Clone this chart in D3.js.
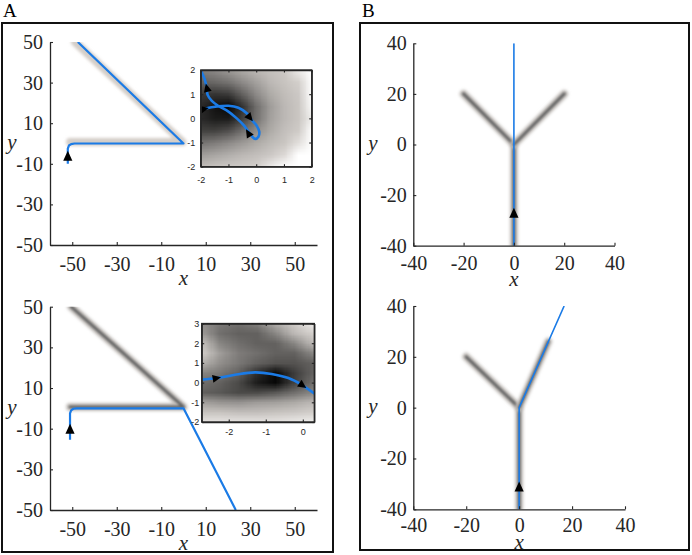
<!DOCTYPE html>
<html>
<head>
<meta charset="utf-8">
<script src="https://cdn.jsdelivr.net/npm/d3@7"></script>
<style>
  body { margin: 0; background: #fff; }
  svg { display: block; }
</style>
</head>
<body>
<div id="chart"></div>
<script>
// ---------- data ----------
const ticksA = [-50, -30, -10, 10, 30, 50];
const ticksB = [-40, -20, 0, 20, 40];
const inset1Ticks = [-2, -1, 0, 1, 2];
const inset2TicksX = [-2, -1, 0];
const inset2TicksY = [-2, -1, 0, 1, 2, 3];

// panel A, top: grey target path, blue trajectory, arrow
const a1Guide = [[[-51, 0.8], [-0.5, 0.8], [-48.8, 50]]];
const a1Path = [[-52, -10], [-52, -2.5], [-51.5, -1], [-50.5, -0.3], [-49, 0], [0, 0], [-47.5, 50]];
const a1Arrow = [-52, -6];
// panel A, bottom
const a2Guide = [[[-51, 0.7], [0, 0.7], [-50.5, 50]]];
const a2Path = [[-51, -15.5], [-51, -2.5], [-50.5, -1], [-49.5, -0.2], [-48, 0], [0, 0], [23.5, -50]];
const a2Arrow = [-51, -10];
// panel B, top
const b1Guide = [[[0, -40], [0, 0], [-20, 20]], [[0, 0], [20, 20]]];
const b1Path = [[0, -40], [0, 40]];
const b1Arrow = [0, -27];
// panel B, bottom
const b2Guide = [[[0, -40], [0, 0], [-20, 20]], [[0, 0], [11, 26]]];
const b2Path = [[0, -40], [0, 0], [17, 40]];
const b2Arrow = [0, -31];

// inset 1 (top of A): grid of darkness values, rows from y=2 down to y=-2
const in1X = [-2, -1.5, -1, -0.5, 0, 0.5, 1, 1.5, 2];
const in1Y = [2, 1.5, 1, 0.5, 0, -0.5, -1, -1.5, -2];
const in1Val = [
  [0.45, 0.40, 0.33, 0.26, 0.20, 0.16, 0.13, 0.04, 0],
  [0.58, 0.55, 0.50, 0.40, 0.30, 0.20, 0.15, 0.10, 0],
  [0.75, 0.78, 0.75, 0.58, 0.40, 0.26, 0.18, 0.13, 0],
  [0.82, 0.92, 0.98, 0.78, 0.52, 0.32, 0.20, 0.14, 0.01],
  [0.82, 0.88, 0.88, 0.72, 0.50, 0.30, 0.20, 0.14, 0.03],
  [0.72, 0.72, 0.66, 0.52, 0.38, 0.26, 0.17, 0.12, 0],
  [0.50, 0.46, 0.40, 0.33, 0.26, 0.19, 0.14, 0.06, 0],
  [0.32, 0.28, 0.24, 0.20, 0.17, 0.13, 0.07, 0, 0],
  [0.18, 0.15, 0.13, 0.12, 0.10, 0.04, 0, 0, 0]
];
const in1Path = [
  [-2.0, 0.37], [-1.94, 0.38], [-1.48, 0.48], [-1.0, 0.52], [-0.64, 0.44], [-0.34, 0.21],
  [-0.16, -0.07], [0.02, -0.31], [0.11, -0.55], [0.08, -0.76], [-0.04, -0.85],
  [-0.14, -0.76], [-0.28, -0.55], [-0.46, -0.27], [-0.70, 0.0], [-1.0, 0.28],
  [-1.37, 0.52], [-1.6, 0.72], [-1.75, 0.97], [-1.78, 1.24], [-1.85, 1.59], [-2.0, 2.0]
];
const in1Arrows = [
  { at: [-1.86, 0.39], to: [-1.48, 0.48] },
  { at: [-1.78, 1.27], to: [-1.85, 1.59] },
  { at: [-0.22, 0.02], to: [0.02, -0.31] },
  { at: [-0.29, -0.6], to: [-0.46, -0.27] }
];

// inset 2 (bottom of A), rows from y=3 down to y=-2
const in2X = [-2.75, -2.25, -1.75, -1.25, -0.75, -0.25, 0.25];
const in2Y = [3, 2.5, 2, 1.5, 1, 0.5, 0, -0.5, -1, -1.5, -2];
const in2Val = [
  [0.38, 0.48, 0.52, 0.45, 0.25, 0.12, 0.04],
  [0.32, 0.52, 0.58, 0.58, 0.42, 0.20, 0.10],
  [0.15, 0.42, 0.52, 0.58, 0.58, 0.42, 0.20],
  [0.10, 0.32, 0.46, 0.52, 0.58, 0.58, 0.42],
  [0.22, 0.38, 0.48, 0.58, 0.64, 0.64, 0.58],
  [0.42, 0.48, 0.58, 0.80, 0.97, 0.74, 0.58],
  [0.52, 0.58, 0.68, 0.88, 0.97, 0.72, 0.52],
  [0.58, 0.62, 0.68, 0.68, 0.62, 0.52, 0.42],
  [0.30, 0.35, 0.36, 0.32, 0.30, 0.26, 0.20],
  [0.15, 0.15, 0.17, 0.17, 0.15, 0.13, 0.10],
  [0.05, 0.05, 0.05, 0.05, 0.05, 0.04, 0.03]
];
const in2Path = [[-2.73, 0.15], [-2.32, 0.23], [-1.83, 0.40], [-1.29, 0.52], [-0.84, 0.44], [-0.39, 0.23], [-0.03, -0.11], [0.31, -0.55]];
const in2Arrows = [
  { at: [-2.32, 0.23], to: [-1.83, 0.40] },
  { at: [0.0, -0.15], to: [0.31, -0.55] }
];

// ---------- drawing ----------
const W = 692, H = 555;
const BLUE = "#1b7be6", AXC = "#262626";
const SERIF = "'Liberation Serif', 'DejaVu Serif', serif";
const SANS = "'Liberation Sans', Arial, sans-serif";

const svg = d3.select("#chart").append("svg").attr("width", W).attr("height", H);
const defs = svg.append("defs");
defs.append("filter").attr("id", "halo").attr("x", "-20%").attr("y", "-20%").attr("width", "140%").attr("height", "140%")
  .append("feGaussianBlur").attr("stdDeviation", 1.8);
defs.append("filter").attr("id", "core").attr("x", "-20%").attr("y", "-20%").attr("width", "140%").attr("height", "140%")
  .append("feGaussianBlur").attr("stdDeviation", 1.0);

const grayRamp = d3.scaleLinear().domain([0, 0.08, 1]).range(["#ffffff", "#d8d4d0", "#000000"]).clamp(true);

// panel frames and letters
svg.append("rect").attr("x", 2).attr("y", 23).attr("width", 331).attr("height", 529)
  .attr("fill", "none").attr("stroke", "#111").attr("stroke-width", 2);
svg.append("rect").attr("x", 360).attr("y", 23).attr("width", 329).attr("height", 527)
  .attr("fill", "none").attr("stroke", "#111").attr("stroke-width", 2);
svg.append("text").attr("x", 3).attr("y", 17).text("A").style("font-family", SERIF).style("font-size", "19px");
svg.append("text").attr("x", 362).attr("y", 17).text("B").style("font-family", SERIF).style("font-size", "19px");

function arrowHead(g, px, py, ang, len, hw) {
  g.append("path")
    .attr("d", `M${len / 2},0L${-len / 2},${hw}L${-len / 2},${-hw}Z`)
    .attr("transform", `translate(${px},${py}) rotate(${ang})`)
    .attr("fill", "#000");
}

function styleAxis(sel, font, size) {
  sel.attr("font-family", null).attr("font-size", null);
  sel.select(".domain").attr("stroke", AXC).attr("stroke-width", 1.3);
  sel.selectAll(".tick line").attr("stroke", AXC).attr("stroke-width", 1.1);
  sel.selectAll(".tick text").attr("fill", AXC).style("font-family", font).style("font-size", size + "px");
}

let clipN = 0;
function mainPlot(c) {
  const x = d3.scaleLinear().domain(c.xd).range(c.xr);
  const y = d3.scaleLinear().domain(c.yd).range(c.yr);
  const id = "clip" + (clipN++);
  defs.append("clipPath").attr("id", id).append("rect")
    .attr("x", c.xr[0]).attr("y", c.yr[1]).attr("width", c.xr[1] - c.xr[0]).attr("height", c.yr[0] - c.yr[1]);
  const g = svg.append("g");
  const inner = g.append("g").attr("clip-path", `url(#${id})`);
  const line = d3.line().x(d => x(d[0])).y(d => y(d[1]));

  c.guide.forEach(gd => {
    inner.append("path").attr("d", line(gd)).attr("fill", "none").attr("stroke", c.faint ? "#d4cec8" : "#c4c0bc")
      .attr("stroke-width", 8).attr("stroke-linecap", "round").attr("stroke-linejoin", "round").attr("filter", "url(#halo)");
    if (!c.faint) {
      inner.append("path").attr("d", line(gd)).attr("fill", "none").attr("stroke", "#666")
        .attr("stroke-width", 3).attr("stroke-linecap", "round").attr("stroke-linejoin", "round").attr("filter", "url(#core)");
    }
  });
  inner.append("path").attr("d", line(c.path)).attr("fill", "none").attr("stroke", BLUE)
    .attr("stroke-width", c.bw).attr("stroke-linejoin", "round");
  arrowHead(g, x(c.arrow[0]), y(c.arrow[1]), -90, 10, 4.6);

  const ax = g.append("g").attr("transform", `translate(0,${c.yr[0]})`)
    .call(d3.axisBottom(x).tickValues(c.ticks).tickSize(-3).tickSizeOuter(0).tickPadding(c.padX).tickFormat(d => String(d)));
  styleAxis(ax, SERIF, 20);
  const ay = g.append("g").attr("transform", `translate(${c.xr[0]},0)`)
    .call(d3.axisLeft(y).tickValues(c.yticks).tickSize(-3).tickSizeOuter(0).tickPadding(c.padY).tickFormat(d => String(d)));
  styleAxis(ay, SERIF, 20);

  g.append("text").attr("x", (c.xr[0] + c.xr[1]) / 2).attr("y", c.yr[0] + 40).attr("text-anchor", "middle")
    .style("font-family", SERIF).style("font-style", "italic").style("font-size", "21px").attr("fill", AXC).text("x");
  g.append("text").attr("x", c.ylabX).attr("y", (c.yr[0] + c.yr[1]) / 2 + 5.5).attr("text-anchor", "middle")
    .style("font-family", SERIF).style("font-style", "italic").style("font-size", "21px").attr("fill", AXC).text("y");
}

function inset(c) {
  const x = d3.scaleLinear().domain(c.xd).range(c.xr);
  const y = d3.scaleLinear().domain(c.yd).range(c.yr);
  const id = "clip" + (clipN++);
  const bx = c.xr[0], by = c.yr[1], bw = c.xr[1] - c.xr[0], bh = c.yr[0] - c.yr[1];
  defs.append("clipPath").attr("id", id).append("rect").attr("x", bx).attr("y", by).attr("width", bw).attr("height", bh);
  const g = svg.append("g");
  g.append("rect").attr("x", bx).attr("y", by).attr("width", bw).attr("height", bh).attr("fill", "#fff");

  // heat map: one canvas pixel per grid value, smoothly scaled by the browser
  const nx = c.gx.length, ny = c.gy.length;
  const cv = document.createElement("canvas");
  cv.width = nx; cv.height = ny;
  const ctx = cv.getContext("2d");
  c.vals.forEach((row, j) => row.forEach((v, i) => { ctx.fillStyle = grayRamp(v); ctx.fillRect(i, j, 1, 1); }));
  const hx = (c.gx[1] - c.gx[0]) / 2, hy = (c.gy[0] - c.gy[1]) / 2;
  const inner = g.append("g").attr("clip-path", `url(#${id})`);
  inner.append("image").attr("href", cv.toDataURL())
    .attr("x", x(c.gx[0] - hx)).attr("y", y(c.gy[0] + hy))
    .attr("width", x(c.gx[nx - 1] + hx) - x(c.gx[0] - hx))
    .attr("height", y(c.gy[ny - 1] - hy) - y(c.gy[0] + hy))
    .attr("preserveAspectRatio", "none");

  const line = d3.line().x(d => x(d[0])).y(d => y(d[1])).curve(d3.curveCatmullRom);
  inner.append("path").attr("d", line(c.path)).attr("fill", "none").attr("stroke", BLUE)
    .attr("stroke-width", 2.6).attr("stroke-linecap", "round");
  c.arrows.forEach(a => {
    const ang = Math.atan2(y(a.to[1]) - y(a.at[1]), x(a.to[0]) - x(a.at[0])) * 180 / Math.PI;
    arrowHead(inner, x(a.at[0]), y(a.at[1]), ang, 8.5, 4);
  });

  const t = 2.5;
  const ab = g.append("g").attr("transform", `translate(0,${c.yr[0]})`)
    .call(d3.axisBottom(x).tickValues(c.tx).tickSize(-t).tickSizeOuter(0).tickPadding(c.padX).tickFormat(d => String(d)));
  styleAxis(ab, SANS, 9);
  const at = g.append("g").attr("transform", `translate(0,${c.yr[1]})`)
    .call(d3.axisTop(x).tickValues(c.tx).tickSize(-t).tickSizeOuter(0).tickFormat(""));
  styleAxis(at, SANS, 9);
  const al = g.append("g").attr("transform", `translate(${c.xr[0]},0)`)
    .call(d3.axisLeft(y).tickValues(c.ty).tickSize(-t).tickSizeOuter(0).tickPadding(c.padY).tickFormat(d => String(d)));
  styleAxis(al, SANS, 9);
  const ar = g.append("g").attr("transform", `translate(${c.xr[1]},0)`)
    .call(d3.axisRight(y).tickValues(c.ty).tickSize(-t).tickSizeOuter(0).tickFormat(""));
  styleAxis(ar, SANS, 9);
  g.append("rect").attr("x", bx).attr("y", by).attr("width", bw).attr("height", bh)
    .attr("fill", "none").attr("stroke", AXC).attr("stroke-width", 1.3);
}

mainPlot({ xd: [-60, 60], yd: [-50, 50], xr: [50, 317], yr: [245, 42], ticks: ticksA, yticks: ticksA.slice().reverse(),
  guide: a1Guide, path: a1Path, arrow: a1Arrow, bw: 2.2, padX: 12, padY: 7, ylabX: 12, faint: true });
mainPlot({ xd: [-60, 60], yd: [-50, 50], xr: [50, 317], yr: [510, 306.7], ticks: ticksA, yticks: ticksA.slice().reverse(),
  guide: a2Guide, path: a2Path, arrow: a2Arrow, bw: 2.2, padX: 12, padY: 7, ylabX: 12 });
mainPlot({ xd: [-40, 40], yd: [-40, 40], xr: [413.3, 614.5], yr: [245.7, 43.3], ticks: ticksB, yticks: ticksB,
  guide: b1Guide, path: b1Path, arrow: b1Arrow, bw: 1.6, padX: 10, padY: 6.5, ylabX: 373 });
mainPlot({ xd: [-40, 40], yd: [-40, 40], xr: [413.3, 625], yr: [509.3, 306], ticks: ticksB, yticks: ticksB,
  guide: b2Guide, path: b2Path, arrow: b2Arrow, bw: 1.6, padX: 9, padY: 6.5, ylabX: 373 });

inset({ xd: [-2, 2], yd: [-2, 2], xr: [200.7, 311.7], yr: [166.7, 70], tx: inset1Ticks, ty: inset1Ticks,
  gx: in1X, gy: in1Y, vals: in1Val, path: in1Path, arrows: in1Arrows, padX: 10, padY: 5.5 });
inset({ xd: [-2.73, 0.31], yd: [-2, 3], xr: [201.7, 314.3], yr: [422, 323.5], tx: inset2TicksX, ty: inset2TicksY,
  gx: in2X, gy: in2Y, vals: in2Val, path: in2Path, arrows: in2Arrows, padX: 6.5, padY: 2.5 });
</script>
</body>
</html>
